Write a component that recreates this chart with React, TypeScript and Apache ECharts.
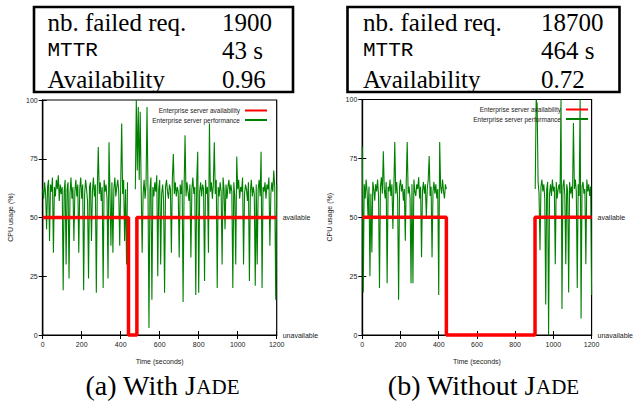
import React, { useEffect, useRef } from "react";
import * as echarts from "echarts";

// ---------- data ----------
const SAMPLE_STEP = 5; // seconds between CPU samples
const xTicks = { min: 0, max: 1200, interval: 200 };
const yTicks = { min: 0, max: 100, interval: 25 };

// CPU usage (%) with Jade, one value every 5 s from 0 to 1200 s (null = no sample)
const cpuWithJade: (number | null)[] = [
  62, 58, 65, 60, 45, 63, 66, 40, 64, 61, 67, 35, 63, 59, 66, 62, 68, 57, 64, 60,
  63, 19, 61, 66, 30, 62, 65, 24, 60, 67, 58, 63, 40, 61, 66, 59, 64, 35, 62, 67,
  58, 64, 19, 60, 66, 62, 57, 24, 63, 65, 40, 61, 67, 59, 64, 18, 62, 80, 60, 65,
  57, 63, 20, 66, 61, 64, 58, 24, 82, 60, 38, 65, 35, 62, 67, 59, 63, 66, 61, 38,
  64, 90, 60, 66, 40, 62, 30, 65, null, null, null, null, null, null, null, 62, 100, 70, 97, 66,
  95, 63, 35, 60, 66, 58, 64, 97, 61, 3, 62, 67, 15, 63, 59, 65, 61, 68, 25, 62,
  66, 30, 60, 64, 57, 18, 63, 66, 61, 58, 64, 62, 35, 67, 77, 60, 65, 59, 63, 61,
  33, 64, 60, 66, 14, 62, 85, 59, 65, 61, 57, 64, 33, 62, 67, 60, 63, 17, 66, 78,
  18, 61, 65, 59, 64, 62, 23, 66, 60, 63, 35, 90, 61, 65, 58, 64, 82, 60, 66, 20,
  63, 59, 65, 61, 30, 67, 62, 45, 64, 58, 63, 66, 60, 64, 61, 20, 65, 59, 30, 76,
  62, 66, 58, 63, 61, 67, 30, 60, 64, 62, 57, 65, 23, 61, 66, 59, 63, 60, 21, 64,
  30, 62, 66, 59, 78, 20, 63, 61, 65, 58, 64, 62, 67, 38, 60, 65, 61, 70, 63, 15,
  64,
];

// CPU usage (%) without Jade, one value every 5 s from 0 to 1200 s (null = server down)
const cpuWithoutJade: (number | null)[] = [
  80, 18, 64, 58, 66, 61, 50, 63, 25, 60, 35, 65, 62, 57, 64, 61, 66, 59, 20, 63,
  67, 60, 78, 62, 58, 65, 22, 63, 61, 66, 59, 64, 45, 62, 82, 60, 65, 58, 15, 63,
  66, 61, 64, 57, 62, 40, 65, 82, 60, 63, 58, 22, 64, 22, 66, 61, 59, 64, 62, 67,
  58, 63, 33, 61, 65, 60, 64, 50, 62, 66, 76, 59, 63, 33, 61, 65, 60, 64, 58, 62,
  17, 82, 63, 60, 66, 61, 58, 64, 62, null,
  null, null, null, null, null, null, null, null, null, null,
  null, null, null, null, null, null, null, null, null, null,
  null, null, null, null, null, null, null, null, null, null,
  null, null, null, null, null, null, null, null, null, null,
  null, null, null, null, null, null, null, null, null, null,
  null, null, null, null, null, null, null, null, null, null,
  null, null, null, null, null, null, null, null, null, null,
  null, null, null, null, null, null, null, null, null, null,
  null, null, null, null, null, null, null, null, null, null,
  null, 62, 100, 98, 65, 60, 36, 63, 66, 61, 64, 58, 13, 62, 65, 0, 60, 64, 59, 66,
  61, 63, 30, 65, 58, 62, 64, 60, 100, 11, 63, 66, 59, 30, 64, 61, 18, 65, 60, 63,
  58, 90, 62, 66, 61, 20, 64, 59, 100, 7, 63, 65, 60, 62, 30, 66, 61, 64, 59, 63,
  17,
];

// availability step (50 = available, 0 = unavailable)
const availTimesWithJade = [0, 440, 440, 483, 483, 1200];
const availWithJade = [50, 50, 0, 0, 50, 50];
const availTimesWithoutJade = [0, 440, 440, 904, 904, 1200];
const availWithoutJade = [50, 50, 0, 0, 50, 50];

const tableLabels = ["nb. failed req.", "MTTR", "Availability"];
const tableWithJade = ["1900", "43 s", "0.96"];
const tableWithoutJade = ["18700", "464 s", "0.72"];

const captionA = { prefix: "(a) With J", caps: "ADE" };
const captionB = { prefix: "(b) Without J", caps: "ADE" };

const NAME_AVAIL = "Enterprise server availability";
const NAME_PERF = "Enterprise server performance";

// ---------- helpers ----------
const SANS = '"Liberation Sans", Arial, sans-serif';
const SERIF = '"Liberation Serif", "Times New Roman", serif';
const MONO = '"Liberation Mono", "DejaVu Sans Mono", monospace';

function measure(text: string, font: string) {
  const c = document.createElement("canvas").getContext("2d")!;
  c.font = font;
  return c.measureText(text).width;
}

function pairs(values: (number | null)[]) {
  return values.map((v, i) => [i * SAMPLE_STEP, v]);
}

function zipPairs(xs: number[], ys: number[]) {
  return xs.map((x, i) => [x, ys[i]]);
}

function axesFor(gridIndex: number) {
  const tick = { inside: true, length: 4, lineStyle: { color: "#000", width: 1 } };
  const line = { show: true, lineStyle: { color: "#000", width: 1.2 } };
  const label = { fontSize: 7, color: "#222", fontFamily: SANS };
  const xAxes = [
    {
      gridIndex, type: "value", position: "bottom", ...xTicks,
      axisLine: line, axisTick: tick, splitLine: { show: false },
      axisLabel: { ...label, margin: 6, formatter: (v: number) => String(v) },
      name: "Time (seconds)", nameLocation: "middle", nameGap: 23,
      nameTextStyle: { fontSize: 7, color: "#222", fontFamily: SANS },
    },
    {
      gridIndex, type: "value", position: "top", ...xTicks,
      axisLine: line, axisTick: tick, splitLine: { show: false },
      axisLabel: { show: false },
    },
  ];
  const yAxes = [
    {
      gridIndex, type: "value", position: "left", ...yTicks,
      axisLine: line, axisTick: tick, splitLine: { show: false },
      axisLabel: { ...label, margin: 5, formatter: (v: number) => String(v) },
      name: "CPU usage (%)", nameLocation: "middle", nameGap: 29, nameRotate: 90,
      nameTextStyle: { fontSize: 7, color: "#222", fontFamily: SANS },
    },
    {
      gridIndex, type: "value", position: "right", ...yTicks,
      axisLine: line, axisTick: tick, splitLine: { show: false },
      axisLabel: {
        ...label, margin: 6,
        formatter: (v: number) => (v === 50 ? "available" : v === 0 ? "unavailable" : ""),
      },
    },
  ];
  return { xAxes, yAxes };
}

function tableGraphics(box: { x: number; y: number; w: number; h: number }, colL: number, colR: number, values: string[]) {
  const rows = [box.y + 15, box.y + 43.5, box.y + 72];
  const els: any[] = [
    {
      type: "rect", shape: { x: box.x, y: box.y, width: box.w, height: box.h },
      style: { fill: "none", stroke: "#000", lineWidth: 2.6 },
    },
  ];
  tableLabels.forEach((lab, i) => {
    els.push({
      type: "text", x: colL, y: rows[i],
      style: {
        text: lab, fill: "#000",
        font: i === 1 ? `21px ${MONO}` : `25px ${SERIF}`,
        verticalAlign: "middle", align: "left",
      },
    });
    els.push({
      type: "text", x: colR, y: rows[i],
      style: { text: values[i], fill: "#000", font: `25px ${SERIF}`, verticalAlign: "middle", align: "left" },
    });
  });
  return els;
}

function captionGraphics(cap: { prefix: string; caps: string }, cx: number, cy: number) {
  const F1 = 28, F2 = 21;
  const f1 = `${F1}px ${SERIF}`, f2 = `${F2}px ${SERIF}`;
  const w1 = measure(cap.prefix, f1), w2 = measure(cap.caps, f2);
  const x0 = cx - (w1 + w2) / 2;
  return [
    { type: "text", x: x0, y: cy, style: { text: cap.prefix, font: f1, fill: "#000", verticalAlign: "middle", align: "left" } },
    { type: "text", x: x0 + w1, y: cy + 0.34 * (F1 - F2), style: { text: cap.caps, font: f2, fill: "#000", verticalAlign: "middle", align: "left" } },
  ];
}

export default function App() {
  const ref = useRef<HTMLDivElement>(null);
  useEffect(() => {
    const chart = echarts.init(ref.current!, undefined, { renderer: "svg" });
    const a = axesFor(0);
    const b = axesFor(1);
    const legendCommon = {
      orient: "vertical", align: "right", itemWidth: 22, itemHeight: 8, itemGap: 2.5,
      padding: 0, selectedMode: false,
      itemStyle: { opacity: 0, borderWidth: 0 },
      textStyle: { fontSize: 6.5, color: "#222", fontFamily: SANS },
      data: [NAME_AVAIL, NAME_PERF],
    };
    const red = { color: "#ff0000", width: 3.5 };
    const green = { color: "#008000", width: 1.1 };
    chart.setOption({
      animation: false,
      backgroundColor: "#fff",
      grid: [
        { left: 42.7, top: 100, width: 234, height: 235, show: true, borderColor: "#000", borderWidth: 1.2, backgroundColor: "transparent" },
        { left: 362.3, top: 99.5, width: 235, height: 235.5, show: true, borderColor: "#000", borderWidth: 1.2, backgroundColor: "transparent" },
      ],
      xAxis: [...a.xAxes, ...b.xAxes],
      yAxis: [...a.yAxes, ...b.yAxes],
      legend: [
        { ...legendCommon, right: 636 - 268, top: 107 },
        { ...legendCommon, right: 636 - 589, top: 106 },
      ],
      series: [
        {
          name: NAME_PERF, type: "line", xAxisIndex: 0, yAxisIndex: 0, symbol: "none",
          data: pairs(cpuWithJade), lineStyle: green, itemStyle: { color: green.color }, connectNulls: false, z: 2,
        },
        {
          name: NAME_AVAIL, type: "line", xAxisIndex: 0, yAxisIndex: 0, symbol: "none", clip: false,
          data: zipPairs(availTimesWithJade, availWithJade), lineStyle: red, itemStyle: { color: red.color }, z: 3,
        },
        {
          name: NAME_PERF, type: "line", xAxisIndex: 2, yAxisIndex: 2, symbol: "none",
          data: pairs(cpuWithoutJade), lineStyle: green, itemStyle: { color: green.color }, connectNulls: false, z: 2,
        },
        {
          name: NAME_AVAIL, type: "line", xAxisIndex: 2, yAxisIndex: 2, symbol: "none", clip: false,
          data: zipPairs(availTimesWithoutJade, availWithoutJade), lineStyle: red, itemStyle: { color: red.color }, z: 3,
        },
      ],
      graphic: [
        ...tableGraphics({ x: 34, y: 7, w: 259, h: 85 }, 47.5, 222, tableWithJade),
        ...tableGraphics({ x: 347.5, y: 7, w: 272, h: 85 }, 363, 541, tableWithoutJade),
        ...captionGraphics(captionA, 162.5, 385),
        ...captionGraphics(captionB, 483.5, 385),
      ],
    });
    return () => chart.dispose();
  }, []);
  return <div ref={ref} style={{ position: "absolute", left: 0, top: 0, width: 636, height: 401 }} />;
}
